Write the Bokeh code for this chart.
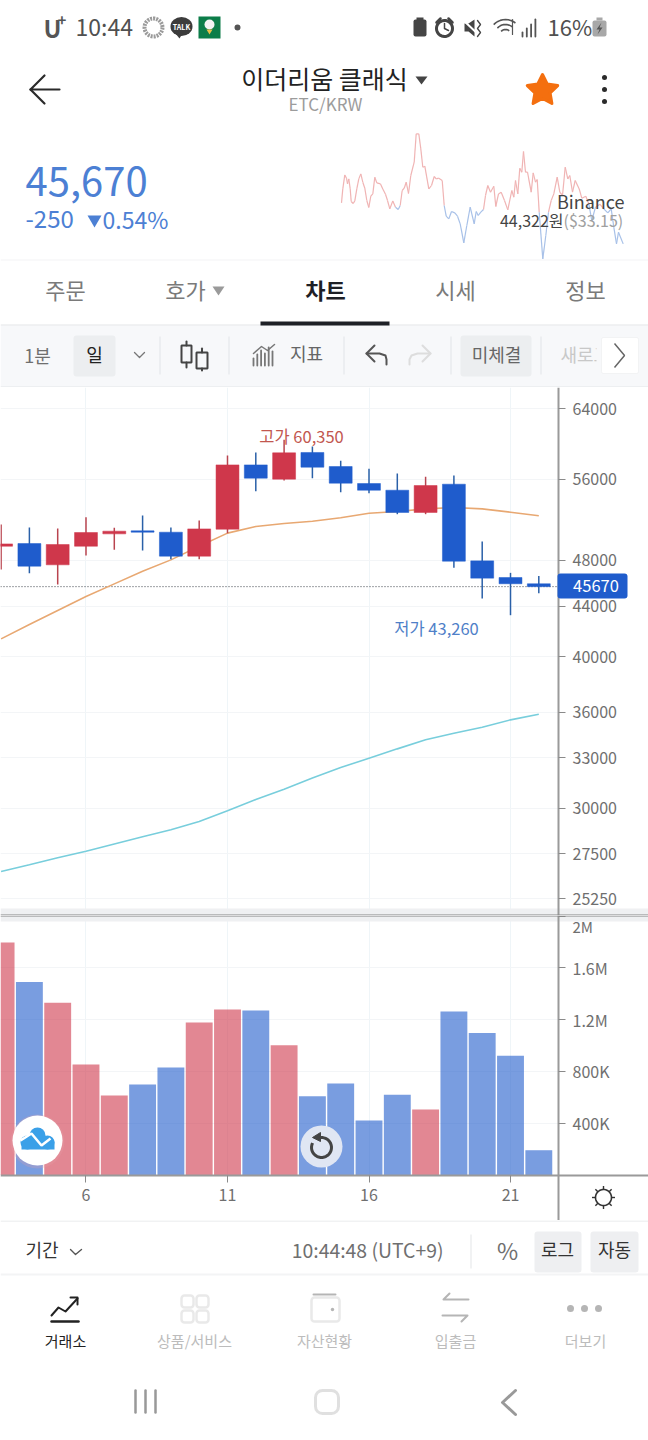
#!/usr/bin/env python3

import numpy as np
from bokeh.core.properties import value
from bokeh.embed import file_html
from bokeh.layouts import column
from bokeh.models import (BoxAnnotation, FixedTicker, Label, LinearScale, NumeralTickFormatter,
                          Range1d, Span)
from bokeh.plotting import figure
from bokeh.resources import INLINE

FONT = "Noto Sans CJK KR"

RED = "#CF374B"
BLUE = "#1F5CCC"
RED_WICK = "#B9444F"
BLUE_WICK = "#2A60A8"
GRAY_TEXT = "#6F6F6F"

# Daily candles, ETC/KRW
DAYS = [3, 4, 5, 6, 7, 8, 9, 10, 11, 12, 13, 14, 15, 16, 17, 18, 19, 20, 21, 22]
OPENS = [49310, 49560, 47600, 49310, 50480, 50770, 50640, 48390, 50930, 57540,
         56000, 58910, 57360, 55540, 54840, 52570, 55470, 47960, 46470, 45920]
CLOSES = [49530, 47480, 49470, 50610, 50740, 50640, 48390, 50960, 57540, 56110,
          58870, 57290, 55580, 54840, 52570, 55330, 47930, 46410, 45920, 45670]
HIGHS = [51380, 51090, 51000, 52100, 51060, 52270, 51090, 51780, 58570, 58910,
         60350, 59580, 57980, 57110, 56610, 56250, 56390, 49750, 46880, 46610]
LOWS = [47180, 46850, 45860, 48450, 48970, 48910, 48110, 48110, 50550, 54740,
        55860, 56110, 54640, 54530, 52400, 52400, 47330, 44650, 43260, 45110]
MA_ORANGE = [41360, 42500, 43650, 44820, 45910, 47030, 48050, 49310, 50550, 51190,
             51480, 51710, 52040, 52500, 52670, 52930, 53070, 52930, 52600, 52240]
MA_CYAN = [26600, 26940, 27300, 27640, 28030, 28410, 28790, 29250, 29850, 30490,
           31100, 31770, 32400, 32980, 33570, 34150, 34580, 34980, 35470, 35850]
VOLUMES = [1796000, 1490000, 1330000, 854000, 615000, 700000, 831000, 1178000, 1279000, 1271000,
           1003000, 609000, 707000, 422000, 620000, 506000, 1263000, 1096000, 921000, 192000]

LAST_PRICE = 45670
PRICE_TICKS = [25250, 27500, 30000, 33000, 36000, 40000, 44000, 48000, 56000, 64000]
VOLUME_TICKS = [400000, 800000, 1200000, 1600000, 2000000]
VOLUME_LABELS = ["400K", "800K", "1.2M", "1.6M", ""]
DAY_TICKS = [6, 11, 16, 21]

# Small exchange sparkline in the header (time step, change from the reference price)
SPARK_T = [0, 1.3, 3.3, 5, 6, 7.3, 8.7, 9.7, 11.7, 13.3, 15.3, 17.3, 19.3, 21.3, 23.3, 25.3, 27.3,
           29.3, 31.3, 33.3, 35.3, 39, 41.3, 44, 46, 48.3, 51.3, 54, 56.7, 58.7, 60.7, 62.7, 64.7,
           67, 69.3, 72.7, 74.7, 77.3, 79.3, 81.3, 83.3, 87.3, 90, 92.7, 94.7, 97.3, 100.7, 102.7,
           104.7, 107.3, 110, 113.3, 116, 118.7, 122.3, 125.3, 128.7, 132.7, 134.7, 136.7, 139.3,
           142, 144, 146.3, 149, 152.3, 154.3, 157, 159.7, 163, 166.3, 170.3, 172.3, 174, 176.3,
           178.3, 180.3, 182, 184, 186, 189.7, 191.7, 194, 195.7, 197.7, 201.3, 204.3, 207, 209.7,
           212.3, 215.7, 218.3, 221, 223.7, 226.3, 228.3, 231, 233.7, 237.7, 240.3, 244.3, 247.3,
           250.3, 254, 258.3, 262.3, 266.3, 269.7, 272.3, 275, 277, 281.7]
SPARK_V = [4.3, 18.3, 32.3, 29, 23.3, 28.3, 18.3, 5.7, 3.7, 6.3, 18.3, 28.3, 33.3, 25, 19, 6.7, -0.3,
           11, 13.3, 30, 24.3, 23.3, 18.3, 13, 6.7, -1.7, 6.3, 0, -2.3, 1.7, 16.7, 19, 25,
           13.7, 31.7, 45, 73.3, 73.3, 58.3, 40, 41, 18.3, 21.7, 30.7, 28.3, 29, 26.7, 1.7,
           -9, -11.7, -4.3, -5.7, -9, -16.7, -35.7, -18.3, 0, -16.7, -4.3, -8.3, -5,
           -2.3, 11.7, 21.7, 15, 21, 0.7, 13.3, 15, 6.7, -2.7, 16.7, 10, 26.7, 13.3,
           39, 35, 55.7, 35, 35, 15, 34.3, 25, 27.7, -5, -51.7, -28.3, -5, 6.7,
           13.3, 30, 15, 11.7, 40, 28.3, 31.7, 15, 26.7, 18.3, 9, 11, 3.3,
           -13.3, 0, 3, -1.7, -5.7, -1.7, -20, -36.7, -25, -36.7]

# Day under the price axis line, the panes keep going to the right of it
AXIS_DAY = 22.696
X_RANGE = (2.979, 25.876)


def txt(fig, x, y, text, size, color, align="center", style="normal", **kw):
    # Noto sits a bit low on a "middle" baseline
    fig.text(x=[x], y=[y - size * 0.08], text=[text], text_font=value(FONT), text_font_size=f"{size}px",
             text_color=color, text_align=align, text_baseline="middle",
             text_font_style=style, **kw)


def note(fig, x, y, text, size, color, align="center"):
    fig.add_layout(Label(x=x, y=y, text=text, x_range_name="px", y_range_name="px",
                         text_font=FONT, text_font_size=f"{size}px", text_color=color,
                         text_align=align, text_baseline="middle"))


def stroke(fig, xs, ys, color="#333333", width=2.0):
    fig.line(xs, ys, line_color=color, line_width=width, line_cap="round", line_join="round")


def box(fig, left, right, top, bottom, color, radius=0, level="underlay", **kw):
    fig.add_layout(BoxAnnotation(left=left, right=right, top=top, bottom=bottom, fill_color=color,
                                 fill_alpha=1, line_color=None, border_radius=radius, level=level, **kw))


def dot(fig, x, y, r, color, **kw):
    fig.scatter(x=[x], y=[y], size=2 * r, marker="circle", fill_color=color, line_color=None, **kw)


def ring(x, y, r, n=40):
    t = np.linspace(0, 2 * np.pi, n)
    return x + r * np.cos(t), y + r * np.sin(t)


def star(x, y, r_out, r_in):
    t = -np.pi / 2 + np.arange(10) * np.pi / 5
    r = np.where(np.arange(10) % 2 == 0, r_out, r_in)
    return x + r * np.cos(t), y + r * np.sin(t)


def style_axis(axis):
    axis.axis_line_color = "#9A9A9A"
    axis.axis_line_width = 2
    axis.major_tick_line_color = "#8A8A8A"
    axis.major_tick_out = 7
    axis.major_tick_in = 0
    axis.minor_tick_line_color = None
    axis.major_label_standoff = 7
    axis.major_label_text_font = FONT
    axis.major_label_text_font_size = "16px"
    axis.major_label_text_color = GRAY_TEXT


def ui_figure(top, bottom):
    """ Figure for the app chrome, its ranges are the pixels of the screenshot. """
    fig = figure(width=648, height=bottom - top, x_range=(0, 648), y_range=(bottom, top),
                 output_backend="svg", toolbar_location=None, min_border=0, frame_align=False,
                 x_axis_location=None, y_axis_location=None, outline_line_color=None)
    fig.grid.visible = False
    return fig


def make_header():
    fig = ui_figure(0, 387)

    # status bar
    txt(fig, 43, 29, "U", 24, "#555555", "left", "bold")
    txt(fig, 57, 21, "+", 15, "#555555", "left", "bold")
    txt(fig, 75, 27, "10:44", 23, "#505050", "left")
    xs, ys = ring(153, 27, 9)
    fig.line(xs, ys, line_color="#9A9A9A", line_width=4, line_dash=[2, 1])
    fig.ellipse(x=[181], y=[26], width=22, height=19, fill_color="#3C3C3C", line_color=None)
    fig.patch([175, 179, 182], [33, 38, 33], fill_color="#3C3C3C", line_color=None)
    txt(fig, 181, 27, "TALK", 7, "#FFFFFF", style="bold")
    box(fig, 198, 220, 16, 38, "#0C7D49")
    dot(fig, 209, 24, 5, "#F3F3F3")
    fig.patch([206, 212, 209], [29, 29, 34], fill_color="#E8C04A", line_color=None)
    dot(fig, 237, 27, 3, "#555555")
    box(fig, 413, 426, 19, 36, "#454545", radius=2)
    box(fig, 416, 423, 17, 20, "#454545")
    xs, ys = ring(444, 28, 8)
    fig.patch(xs, ys, fill_color="#FFFFFF", line_color="#454545", line_width=3)
    stroke(fig, [444, 444, 448], [23, 28, 30], "#454545", 1.5)
    stroke(fig, [436, 440], [22, 18], "#454545", 2.5)
    stroke(fig, [448, 452], [18, 22], "#454545", 2.5)
    fig.patch([464, 468, 474, 474, 468, 464], [23, 23, 19, 36, 31, 31], fill_color="#454545", line_color=None)
    stroke(fig, [462, 480], [19, 36], "#FFFFFF", 2)
    stroke(fig, [477, 480, 477, 480, 477], [20, 24, 28, 32, 36], "#454545", 1.3)
    for r in [6, 11, 16]:
        a = np.linspace(-2.4, -0.9, 10)
        fig.line(505 + r * np.cos(a), 35 + r * np.sin(a), line_color="#555555", line_width=1.6)
    stroke(fig, [512, 512], [19, 34], "#555555", 1.2)
    for i, h in enumerate([4, 8, 12, 17]):
        stroke(fig, [522 + i * 4.3, 522 + i * 4.3], [36, 36 - h], "#555555", 1.8)
    txt(fig, 547, 27, "16%", 22, "#505050", "left")
    box(fig, 592, 606, 20, 36, "#A8A8A8", radius=2)
    box(fig, 596, 602, 17, 20, "#A8A8A8")
    fig.patch([601, 596, 599, 597, 602, 599], [22, 29, 29, 34, 27, 27], fill_color="#555555", line_color=None)

    # title row
    stroke(fig, [59, 30, 44], [89, 89, 75], "#2A2A2A", 2.2)
    stroke(fig, [30, 44], [89, 103], "#2A2A2A", 2.2)
    txt(fig, 324, 79, "이더리움 클래식", 25, "#222222")
    fig.patch([415, 427, 421], [76, 76, 84], fill_color="#444444", line_color=None)
    txt(fig, 325, 104, "ETC/KRW", 17, "#9C9C9C")
    xs, ys = star(542, 90, 16, 8)
    fig.patch(xs, ys, fill_color="#F46F0F", line_color="#F46F0F", line_width=3, line_join="round")
    for y in [77, 89, 101]:
        dot(fig, 604, y, 2.5, "#2A2A2A")

    # sparkline
    fig.extra_x_ranges["spark"] = Range1d(0 - 341, 648 - 341)
    fig.extra_y_ranges["spark"] = Range1d(206.7 - 387, 206.7 - 0)
    t = np.array(SPARK_T)
    v = np.array(SPARK_V)
    colors = ["#F0B4B4" if a + b >= 0 else "#A8C1E8" for a, b in zip(v[:-1], v[1:])]
    fig.segment(x0=t[:-1], y0=v[:-1], x1=t[1:], y1=v[1:], line_color=colors, line_width=1.2,
                x_range_name="spark", y_range_name="spark")

    # price block
    txt(fig, 25, 184, "45,670", 40, "#4C80D4", "left")
    txt(fig, 25, 220, "-250", 24, "#4C80D4", "left")
    fig.patch([87, 101, 94], [215, 215, 227], fill_color="#4C80D4", line_color=None)
    txt(fig, 102, 220, "0.54%", 23, "#4C80D4", "left")
    txt(fig, 624, 202, "Binance", 18, "#444444", "right")
    txt(fig, 563, 221, "44,322원", 16, "#444444", "right")
    txt(fig, 563, 221, "($33.15)", 16, "#A0A0A0", "left")

    # tabs
    box(fig, 0, 648, 259, 260, "#F3F4F5")
    txt(fig, 65, 290, "주문", 22, "#7A7A7A")
    txt(fig, 185, 290, "호가", 22, "#7A7A7A")
    fig.patch([212, 224, 218], [286, 286, 295], fill_color="#9A9A9A", line_color=None)
    txt(fig, 325, 290, "차트", 22, "#1E2026", style="bold")
    txt(fig, 455, 290, "시세", 22, "#7A7A7A")
    txt(fig, 585, 290, "정보", 22, "#7A7A7A")

    # chart toolbar
    box(fig, 0, 648, 325, 387, "#F7F8FA")
    box(fig, 0, 648, 324, 325, "#E3E5E8")
    box(fig, 0, 648, 386, 387, "#E3E5E8")
    box(fig, 260, 389, 321, 325, "#1E2026")
    box(fig, 73, 115, 335, 376, "#ECEEF0", radius=3)
    box(fig, 460, 531, 335, 376, "#ECEEF0", radius=3)
    for x in [159, 228, 343, 450, 540]:
        box(fig, x, x + 1, 336, 374, "#E2E4E7")
    txt(fig, 37, 356, "1분", 18, GRAY_TEXT)
    txt(fig, 94, 355, "일", 18, "#222222")
    stroke(fig, [134, 139, 144], [352, 357, 352], "#777777", 1.3)
    # candle icon
    fig.quad(left=[181, 196], right=[191, 207], top=[345, 352], bottom=[362, 368],
             fill_color=None, line_color="#444444", line_width=2)
    stroke(fig, [186, 186], [341, 345], "#444444", 2)
    stroke(fig, [186, 186], [362, 367], "#444444", 2)
    stroke(fig, [201.5, 201.5], [348, 352], "#444444", 2)
    stroke(fig, [201.5, 201.5], [368, 370], "#444444", 2)
    # indicator icon
    for i, h in enumerate([7, 11, 15, 12, 18, 14]):
        stroke(fig, [253 + i * 3.8, 253 + i * 3.8], [365, 365 - h], "#777777", 1.8)
    stroke(fig, [253, 261, 267, 274], [353, 346, 350, 344], "#777777", 1.5)
    txt(fig, 306, 354, "지표", 18, "#666666")
    # undo, redo
    stroke(fig, [374, 366, 374], [345, 353, 361], "#555555", 2)
    stroke(fig, [366, 379, 385, 386, 386], [353, 353, 355, 359, 364], "#555555", 2)
    stroke(fig, [422, 430, 422], [345, 353, 361], "#DDDDDD", 2)
    stroke(fig, [430, 417, 411, 409, 409], [353, 353, 355, 359, 364], "#DDDDDD", 2)
    txt(fig, 496, 355, "미체결", 18, "#666666")
    txt(fig, 560, 355, "새로고", 18, "#C8C8C8", "left")
    box(fig, 596, 648, 326, 385, "#F7F8FA", level="annotation")
    box(fig, 601, 638, 337, 373, "#FFFFFF", radius=2, level="annotation")
    fig.add_layout(BoxAnnotation(left=601, right=638, top=337, bottom=373, fill_color=None,
                                 line_color="#DDDFE2", line_width=1, border_radius=2))
    chev = fig.line([614, 624, 614], [343, 355, 367], line_color="#666666", line_width=1.5)
    chev.level = "overlay"
    return fig


def make_price_figure():
    fig = figure(width=648, height=528, y_axis_type="log", y_range=(24470, 66640),
                 x_range=X_RANGE, x_axis_location=None, y_axis_location="right",
                 output_backend="svg", toolbar_location=None, outline_line_color=None, frame_align=False,
                 min_border=0)
    # screen pixels, for the notes and the price tag around the axis
    fig.extra_x_ranges["px"] = Range1d(0, 648)
    fig.extra_y_ranges["px"] = Range1d(915, 387)
    fig.extra_y_scales["px"] = LinearScale()
    px = dict(x_range_name="px", y_range_name="px")

    fig.yaxis.fixed_location = AXIS_DAY
    fig.yaxis.ticker = FixedTicker(ticks=PRICE_TICKS)
    fig.yaxis.formatter = NumeralTickFormatter(format="0")
    style_axis(fig.yaxis)

    fig.ygrid.ticker = FixedTicker(ticks=PRICE_TICKS)
    fig.ygrid.grid_line_color = "#F3F5F7"
    fig.xgrid.ticker = FixedTicker(ticks=DAY_TICKS)
    fig.xgrid.grid_line_color = "#EFF5F8"

    fig.add_layout(Span(location=LAST_PRICE, dimension="width", line_color="#3A3F46",
                        line_width=1, line_dash=[1, 2], level="underlay"))
    # the grid and the price line stop at the axis
    box(fig, 558, 648, 387, 915, "#FFFFFF", **px)

    fig.line(DAYS, MA_ORANGE, line_color="#E8A872", line_width=1.6)
    fig.line(DAYS, MA_CYAN, line_color="#78CEDC", line_width=1.6)

    up = [c >= o for o, c in zip(OPENS, CLOSES)]
    fig.segment(x0=DAYS, y0=LOWS, x1=DAYS, y1=HIGHS, line_width=1.5,
                line_color=[RED_WICK if u else BLUE_WICK for u in up])
    fig.vbar(x=DAYS, top=[max(o, c) for o, c in zip(OPENS, CLOSES)],
             bottom=[min(o, c) for o, c in zip(OPENS, CLOSES)], width=0.81,
             fill_color=[RED if u else BLUE for u in up], line_color=[RED if u else BLUE for u in up],
             line_width=0.5)

    note(fig, 301, 435, "고가 60,350", 16.5, "#C2574F")
    note(fig, 436, 627, "저가 43,260", 16.5, "#4F80C8")

    box(fig, 557, 627, 573, 598, BLUE, radius=3, level="annotation", **px)
    note(fig, 595.5, 585.5, f"{LAST_PRICE}", 16.5, "#FFFFFF")

    box(fig, 0, 648, 908, 915, "#EFF0F2", **px)
    box(fig, 0, 648, 914, 915, "#858585", level="annotation", **px)
    return fig


def make_volume_figure():
    # frame runs down to the toolbar so the axis lines can cross in it, zero is at 1174.6px
    fig = figure(width=648, height=305, y_range=(-350500, 2004000), x_range=X_RANGE,
                 y_axis_location="right", output_backend="svg", toolbar_location=None,
                 outline_line_color=None, frame_align=False, min_border=0)
    fig.extra_x_ranges["px"] = Range1d(0, 648)
    fig.extra_y_ranges["px"] = Range1d(1220, 915)
    px = dict(x_range_name="px", y_range_name="px")

    fig.yaxis.fixed_location = AXIS_DAY
    fig.xaxis.fixed_location = 0
    fig.yaxis.ticker = FixedTicker(ticks=VOLUME_TICKS)
    fig.yaxis.major_label_overrides = dict(zip(VOLUME_TICKS, VOLUME_LABELS))
    fig.xaxis.ticker = FixedTicker(ticks=DAY_TICKS)
    style_axis(fig.xaxis)
    style_axis(fig.yaxis)
    fig.ygrid.ticker = FixedTicker(ticks=VOLUME_TICKS)
    fig.ygrid.grid_line_color = "#F3F5F7"
    fig.xgrid.ticker = FixedTicker(ticks=DAY_TICKS)
    fig.xgrid.grid_line_color = "#EFF5F8"

    box(fig, 558, 648, 915, 1220, "#FFFFFF", **px)
    box(fig, 0, 648, 1175, 1220, "#FFFFFF", **px)
    box(fig, 0, 648, 915, 921, "#EFF0F2", **px)
    box(fig, 0, 648, 915, 916, "#858585", level="annotation", **px)
    # the 2M label sits right under the pane divider
    note(fig, 572, 926, "2M", 15, GRAY_TEXT, "left")

    up = [c >= o for o, c in zip(OPENS, CLOSES)]
    fig.vbar(x=DAYS, top=VOLUMES, bottom=0, width=0.95, line_color=None, fill_alpha=0.6,
             fill_color=[RED if u else BLUE for u in up])

    # settings icon
    xs, ys = ring(603, 1197, 8)
    fig.line(xs, ys, line_color="#333333", line_width=1.6, **px)
    for a in np.arange(8) * np.pi / 4:
        fig.line([603 + 8 * np.cos(a), 603 + 11.5 * np.cos(a)], [1197 + 8 * np.sin(a), 1197 + 11.5 * np.sin(a)],
                 line_color="#333333", line_width=1.4, **px)

    # floating buttons on top of the bars
    dot(fig, 37, 1141, 27, "#E8A0A8", fill_alpha=0.25, **px)
    dot(fig, 37, 1140, 25, "#FFFFFF", **px)
    for x, y, r in [(27, 1142, 7), (37, 1135, 8), (47, 1142, 7)]:
        dot(fig, x, y, r, "#3AA0E8", **px)
    fig.quad(left=[21], right=[54], top=[1141], bottom=[1149], fill_color="#3AA0E8", line_color=None, **px)
    fig.line([20, 31, 41, 50], [1140, 1133, 1145, 1138], line_color="#FFFFFF", line_width=2.5, **px)
    dot(fig, 321, 1146, 21, "#E0E6F3", **px)
    a = np.linspace(-2.0, 3.6, 30)
    fig.line(321 + 10 * np.cos(a), 1147 + 10 * np.sin(a), line_color="#444444", line_width=3, **px)
    fig.patch([312, 320, 320], [1137, 1132, 1141], fill_color="#444444", line_color="#444444", **px)
    return fig


def make_footer():
    fig = ui_figure(1220, 1440)
    box(fig, 0, 648, 1220, 1221, "#E3E5E8")
    txt(fig, 25, 1250, "기간", 18, "#333333", "left")
    stroke(fig, [70, 75, 81], [1249, 1254, 1249], "#555555", 1.4)
    txt(fig, 443, 1251, "10:44:48 (UTC+9)", 19.4, GRAY_TEXT, "right")
    box(fig, 470, 471, 1234, 1268, "#E3E5E8")
    txt(fig, 507, 1251, "%", 23, GRAY_TEXT)
    box(fig, 534, 581, 1231, 1272, "#EEEFF1", radius=3)
    box(fig, 590, 638, 1231, 1272, "#EEEFF1", radius=3)
    txt(fig, 557, 1250, "로그", 18, "#333333")
    txt(fig, 614, 1250, "자동", 18, "#333333")
    box(fig, 0, 648, 1273, 1275, "#F3F4F5")

    # bottom navigation
    stroke(fig, [51, 58, 65, 77], [1315, 1307, 1311, 1298], "#222222", 2)
    stroke(fig, [70, 77, 77], [1297, 1297, 1304], "#222222", 2)
    stroke(fig, [51, 78], [1321, 1321], "#222222", 2.5)
    for x in [181, 196]:
        for y in [1295, 1310]:
            fig.add_layout(BoxAnnotation(left=x, right=x + 12, top=y, bottom=y + 12, fill_color=None,
                                         line_color="#B5B5B5", line_width=2.5, border_radius=3, level="underlay"))
    fig.add_layout(BoxAnnotation(left=311, right=339, top=1297, bottom=1321, fill_color=None,
                                 line_color="#B5B5B5", line_width=2.5, border_radius=3, level="underlay"))
    stroke(fig, [313, 335], [1294, 1294], "#B5B5B5", 2)
    dot(fig, 332, 1309, 1.7, "#B5B5B5")
    stroke(fig, [468, 443, 449], [1299, 1299, 1293], "#B5B5B5", 2)
    stroke(fig, [442, 467, 461], [1315, 1315, 1321], "#B5B5B5", 2)
    for x in [570, 584, 598]:
        dot(fig, x, 1308, 3.5, "#B5B5B5")
    txt(fig, 65, 1341, "거래소", 15, "#222222")
    txt(fig, 194, 1341, "상품/서비스", 15, "#BCBCBC")
    txt(fig, 324, 1341, "자산현황", 15, "#BCBCBC")
    txt(fig, 455, 1341, "입출금", 15, "#BCBCBC")
    txt(fig, 585, 1341, "더보기", 15, "#BCBCBC")

    # android buttons
    for x in [135, 145, 155]:
        stroke(fig, [x, x], [1390, 1412], "#999999", 2.5)
    fig.add_layout(BoxAnnotation(left=315, right=338, top=1390, bottom=1413, fill_color=None,
                                 line_color="#999999", line_width=3, border_radius=7, level="underlay"))
    stroke(fig, [515, 502, 515], [1390, 1402, 1414], "#999999", 3)
    return fig


p = column(make_header(), make_price_figure(), make_volume_figure(), make_footer(), spacing=0)

open("out.html", "w").write(file_html(p, INLINE))
